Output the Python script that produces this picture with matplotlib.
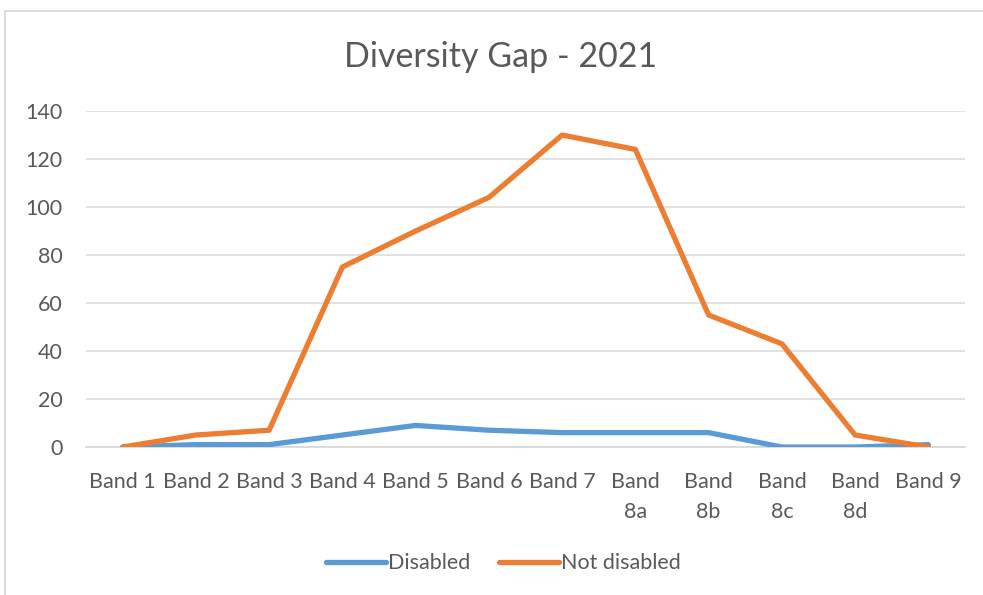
import matplotlib.pyplot as plt
from matplotlib.lines import Line2D

# Diversity gap by pay band, 2021
categories = ["Band 1", "Band 2", "Band 3", "Band 4", "Band 5", "Band 6",
              "Band 7", "Band 8a", "Band 8b", "Band 8c", "Band 8d", "Band 9"]
disabled = [0, 1, 1, 5, 9, 7, 6, 6, 6, 0, 0, 1]
not_disabled = [0, 5, 7, 75, 90, 104, 130, 124, 55, 43, 5, 0]
y_ticks = [0, 20, 40, 60, 80, 100, 120, 140]

BLUE = "#5B9BD5"
ORANGE = "#ED7D31"
TEXT = "#595959"
GRID = "#D9D9D9"

plt.rcParams["font.family"] = ["Lato", "DejaVu Sans"]

fig = plt.figure(figsize=(9.83, 5.95), dpi=100)
ax = fig.add_axes([0.0875, 0.2487, 0.8942, 0.5647])

x = range(len(categories))
ax.plot(x, disabled, color=BLUE, lw=3.8, solid_capstyle="round",
        solid_joinstyle="round", label="Disabled", zorder=3)
ax.plot(x, not_disabled, color=ORANGE, lw=3.8, solid_capstyle="round",
        solid_joinstyle="round", label="Not disabled", zorder=4)

ax.set_xlim(-0.5, len(categories) - 0.5)
ax.set_ylim(0, 140)
ax.set_yticks(y_ticks)
ax.set_xticks(list(x))
# long labels wrap onto two lines
ax.set_xticklabels([c.replace(" ", "\n") if len(c) > 6 else c for c in categories],
                   va="top", linespacing=1.6)
ax.tick_params(axis="both", length=0, labelsize=15.5, colors=TEXT)
ax.tick_params(axis="y", pad=17)
ax.tick_params(axis="x", pad=18)
ax.grid(axis="y", color=GRID, lw=1.1)
ax.set_axisbelow(True)
for side in ["top", "right", "left"]:
    ax.spines[side].set_visible(False)
ax.spines["bottom"].set_color(GRID)
ax.spines["bottom"].set_linewidth(1.3)

fig.text(0.509, 0.904, "Diversity Gap - 2021", ha="center", va="center",
         fontsize=24.5, color=TEXT)

handles = [Line2D([0], [0], color=BLUE, lw=3.8, solid_capstyle="round"),
           Line2D([0], [0], color=ORANGE, lw=3.8, solid_capstyle="round")]
fig.legend(handles, ["Disabled", "Not disabled"], loc="center",
           bbox_to_anchor=(0.512, 0.053), ncol=2, frameon=False,
           fontsize=15.5, labelcolor=TEXT, handlelength=2.8,
           handletextpad=0.1, columnspacing=1.3)

# chart frame
fig.add_artist(Line2D([0.005, 1.0], [0.982, 0.982], color=GRID, lw=1.3,
                      transform=fig.transFigure))
fig.add_artist(Line2D([0.005, 0.005], [0.0, 0.982], color=GRID, lw=1.3,
                      transform=fig.transFigure))

fig.savefig("out.png", dpi=100)
